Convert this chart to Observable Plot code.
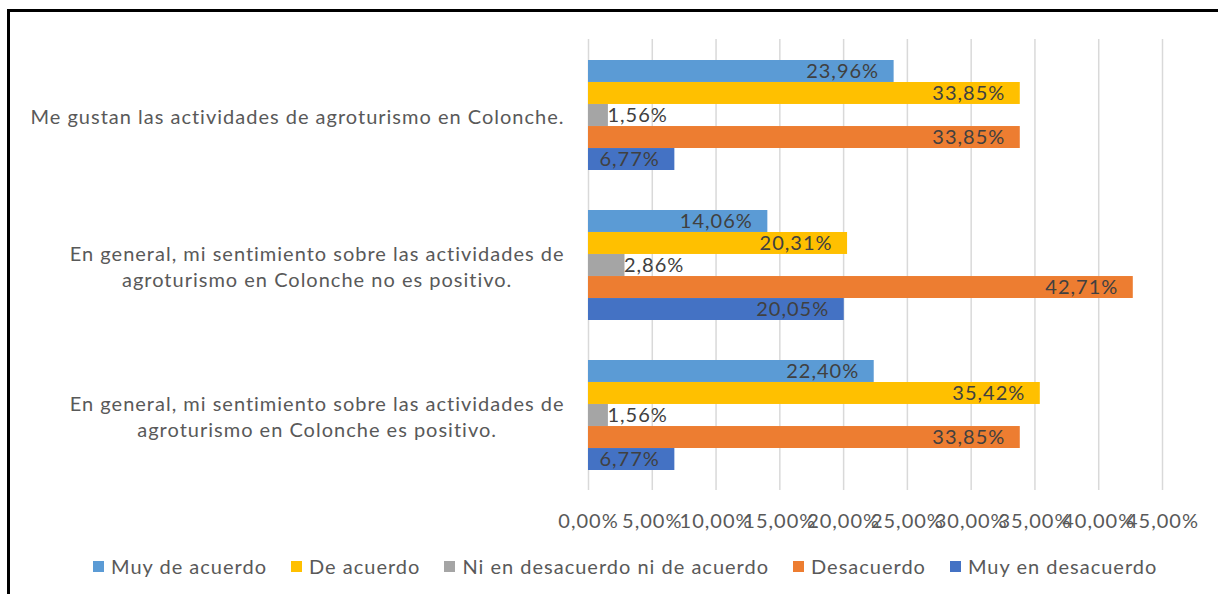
<!DOCTYPE html>
<html><head><meta charset="utf-8">
<script src="https://cdn.jsdelivr.net/npm/d3@7"></script>
<script src="https://cdn.jsdelivr.net/npm/@observablehq/plot@0.6"></script>
<style>
html,body{margin:0;padding:0;background:#fff;overflow:hidden;}
#wrap{position:relative;width:1218px;height:594px;font-family:Lato,sans-serif;}
#frame{position:absolute;left:7px;top:9px;width:1240px;height:620px;border:3px solid #000;box-sizing:border-box;pointer-events:none;}
#chart{position:absolute;left:0;top:0;}
#legend{position:absolute;left:93px;top:554px;display:flex;align-items:center;font-size:20px;color:#595959;letter-spacing:1px;white-space:nowrap;}
.item{display:flex;align-items:center;margin-right:24px;}
.sw{width:11px;height:11px;margin-right:7px;}
</style></head><body>
<div id="wrap"><div id="chart"></div><div id="legend"></div><div id="frame"></div></div>
<script>
const categories = [
  "Me gustan las actividades de agroturismo en Colonche.",
  "En general, mi sentimiento sobre las actividades de\nagroturismo en Colonche no es positivo.",
  "En general, mi sentimiento sobre las actividades de\nagroturismo en Colonche es positivo."
];
const series = ["Muy de acuerdo", "De acuerdo", "Ni en desacuerdo ni de acuerdo", "Desacuerdo", "Muy en desacuerdo"];
const colors = ["#5B9BD5", "#FFC000", "#A5A5A5", "#ED7D31", "#4472C4"];
const valuesMuyDeAcuerdo = [23.96, 14.06, 22.40];
const valuesDeAcuerdo = [33.85, 20.31, 35.42];
const valuesNi = [1.56, 2.86, 1.56];
const valuesDesacuerdo = [33.85, 42.71, 33.85];
const valuesMuyEnDesacuerdo = [6.77, 20.05, 6.77];
const xTicks = [0, 5, 10, 15, 20, 25, 30, 35, 40, 45];

const seriesValues = [valuesMuyDeAcuerdo, valuesDeAcuerdo, valuesNi, valuesDesacuerdo, valuesMuyEnDesacuerdo];
const rows = [];
seriesValues.forEach((vals, i) => vals.forEach((v, j) => rows.push({category: categories[j], series: series[i], i, value: v})));
const fmt = v => v.toFixed(2).replace(".", ",") + "%";

const W = 1218, H = 540, mTop = 39, mBottom = 50, mLeft = 588, mRight = 56;
const pI = 0.268, pO = 0.134;
const band = d3.scaleBand().domain(categories).range([mTop, H - mBottom]).paddingInner(pI).paddingOuter(pO);
const bw = band.bandwidth(), sub = bw / 5;

const marks = [Plot.ruleX(xTicks, {stroke: "#d9d9d9", strokeWidth: 1.5})];
series.forEach((s, i) => {
  const d = rows.filter(r => r.i === i);
  marks.push(Plot.barX(d, {x: "value", y: "category", fill: colors[i], insetTop: i * sub, insetBottom: (4 - i) * sub}));
});
series.forEach((s, i) => {
  const d = rows.filter(r => r.i === i);
  const dy = -bw / 2 + (i + 0.5) * sub;
  marks.push(Plot.text(d.filter(r => r.value >= 5), {x: "value", y: "category", text: r => fmt(r.value), textAnchor: "end", dx: -15, dy, fill: "#404040"}));
  marks.push(Plot.text(d.filter(r => r.value < 5), {x: "value", y: "category", text: r => fmt(r.value), textAnchor: "start", dx: -1, dy, fill: "#404040"}));
});
marks.push(Plot.axisX({ticks: xTicks, tickFormat: d => fmt(d), tickSize: 0, tickPadding: 23, anchor: "bottom", label: null}));
marks.push(Plot.axisY({tickSize: 0, tickPadding: 24, lineHeight: 1.3, label: null, anchor: "left"}));

const svg = Plot.plot({
  width: W, height: H,
  marginTop: mTop, marginBottom: mBottom, marginLeft: mLeft, marginRight: mRight,
  x: {domain: [0, 45]},
  y: {domain: categories, paddingInner: pI, paddingOuter: pO},
  style: {fontFamily: "Lato, sans-serif", fontSize: "20px", color: "#595959", background: "transparent", letterSpacing: "1px"},
  marks
});
document.getElementById("chart").appendChild(svg);

svg.querySelectorAll('g[aria-label="y-axis tick label"] text').forEach(t => {
  const spans = t.querySelectorAll("tspan");
  if (spans.length > 1) {
    let w = 0;
    spans.forEach(s => { w = Math.max(w, s.getComputedTextLength()); });
    t.setAttribute("text-anchor", "middle");
    spans.forEach(s => { const cur = parseFloat(s.getAttribute("x")) || 0; s.setAttribute("x", cur - w / 2); });
  }
});

const legend = document.getElementById("legend");
series.forEach((s, i) => {
  const it = document.createElement("div"); it.className = "item";
  const sw = document.createElement("div"); sw.className = "sw"; sw.style.background = colors[i];
  const tx = document.createElement("span"); tx.textContent = s;
  it.appendChild(sw); it.appendChild(tx); legend.appendChild(it);
});
</script>
</body></html>
